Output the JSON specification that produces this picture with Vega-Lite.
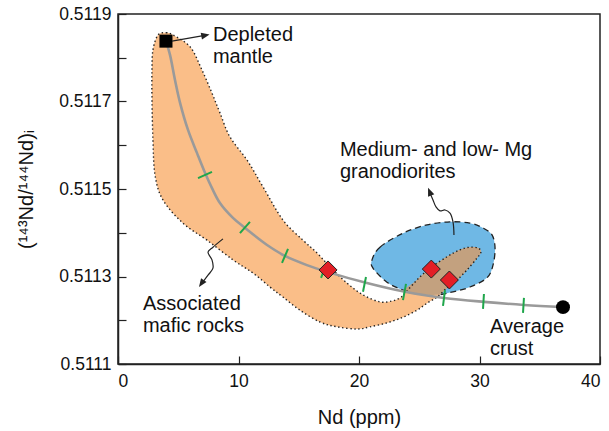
{
  "$schema": "https://vega.github.io/schema/vega-lite/v6.json",
  "width": 482,
  "height": 350,
  "autosize": "none",
  "padding": {"left": 118, "top": 14, "right": 9, "bottom": 67},
  "background": "white",
  "config": {
    "font": "Liberation Sans",
    "view": {"stroke": "#222", "strokeWidth": 1.5},
    "axis": {
      "grid": false,
      "domainColor": "#222",
      "domainWidth": 1.5,
      "tickColor": "#222",
      "tickWidth": 1.2,
      "tickSize": -8,
      "labelFontSize": 17.5,
      "labelColor": "#111",
      "titleFontSize": 20,
      "titleFontWeight": "normal",
      "titleColor": "#111"
    }
  },
  "datasets": {
    "orange": [
      {"x": 3.32, "y": 0.511852}, {"x": 3.98, "y": 0.511857}, {"x": 4.56, "y": 0.511852},
      {"x": 5.98, "y": 0.511825}, {"x": 6.97, "y": 0.511772}, {"x": 7.80, "y": 0.511719},
      {"x": 8.46, "y": 0.511674}, {"x": 9.29, "y": 0.511619}, {"x": 10.71, "y": 0.511566},
      {"x": 12.03, "y": 0.511505}, {"x": 13.69, "y": 0.511429}, {"x": 15.35, "y": 0.511383},
      {"x": 16.51, "y": 0.511354}, {"x": 17.59, "y": 0.511322}, {"x": 19.00, "y": 0.511285},
      {"x": 20.33, "y": 0.511258}, {"x": 21.74, "y": 0.511242}, {"x": 22.74, "y": 0.511244},
      {"x": 23.40, "y": 0.511251}, {"x": 23.82, "y": 0.511262}, {"x": 24.81, "y": 0.511292},
      {"x": 25.89, "y": 0.511319}, {"x": 27.30, "y": 0.511345}, {"x": 28.38, "y": 0.511361},
      {"x": 29.21, "y": 0.511367}, {"x": 29.88, "y": 0.511365}, {"x": 30.12, "y": 0.511356},
      {"x": 29.79, "y": 0.511342}, {"x": 28.96, "y": 0.511315}, {"x": 28.13, "y": 0.511292},
      {"x": 27.30, "y": 0.511274}, {"x": 26.47, "y": 0.511253}, {"x": 25.64, "y": 0.511239},
      {"x": 24.81, "y": 0.511223}, {"x": 23.65, "y": 0.511207}, {"x": 22.32, "y": 0.511194},
      {"x": 20.91, "y": 0.511185}, {"x": 19.83, "y": 0.511180}, {"x": 18.17, "y": 0.511185},
      {"x": 16.76, "y": 0.511196}, {"x": 15.10, "y": 0.511223}, {"x": 13.69, "y": 0.511253},
      {"x": 12.61, "y": 0.511276}, {"x": 11.20, "y": 0.511308}, {"x": 9.54, "y": 0.511338},
      {"x": 7.39, "y": 0.511383}, {"x": 5.39, "y": 0.511422}, {"x": 3.73, "y": 0.511475},
      {"x": 3.07, "y": 0.511532}, {"x": 2.90, "y": 0.511612}, {"x": 2.82, "y": 0.511703},
      {"x": 2.82, "y": 0.511772}, {"x": 2.90, "y": 0.511818}
    ],
    "blue": [
      {"x": 21.08, "y": 0.511338}, {"x": 21.74, "y": 0.511367}, {"x": 23.65, "y": 0.511399},
      {"x": 25.64, "y": 0.511418}, {"x": 27.55, "y": 0.511425}, {"x": 29.21, "y": 0.511422},
      {"x": 30.29, "y": 0.511411}, {"x": 31.04, "y": 0.511395}, {"x": 31.29, "y": 0.511365},
      {"x": 31.12, "y": 0.511326}, {"x": 30.62, "y": 0.511297}, {"x": 29.21, "y": 0.511276},
      {"x": 27.80, "y": 0.511265}, {"x": 26.47, "y": 0.511258}, {"x": 25.06, "y": 0.511260},
      {"x": 23.65, "y": 0.511269}, {"x": 22.32, "y": 0.511287}, {"x": 21.16, "y": 0.511319}
    ],
    "brown": [
      {"x": 23.73, "y": 0.511267}, {"x": 24.81, "y": 0.511292}, {"x": 25.89, "y": 0.511319},
      {"x": 27.30, "y": 0.511345}, {"x": 28.38, "y": 0.511361}, {"x": 29.21, "y": 0.511367},
      {"x": 29.88, "y": 0.511365}, {"x": 30.12, "y": 0.511356}, {"x": 29.79, "y": 0.511342},
      {"x": 28.96, "y": 0.511315}, {"x": 28.13, "y": 0.511292}, {"x": 27.30, "y": 0.511274},
      {"x": 26.72, "y": 0.511260}, {"x": 25.89, "y": 0.511258}, {"x": 24.90, "y": 0.511260}
    ],
    "curve": [
      {"x": 3.98, "y": 0.511838}, {"x": 4.32, "y": 0.511806}, {"x": 4.73, "y": 0.511749},
      {"x": 5.15, "y": 0.511697}, {"x": 5.81, "y": 0.511635}, {"x": 6.56, "y": 0.511582},
      {"x": 7.22, "y": 0.511537}, {"x": 7.80, "y": 0.511502}, {"x": 8.46, "y": 0.511468},
      {"x": 9.54, "y": 0.511434}, {"x": 10.54, "y": 0.511411}, {"x": 12.37, "y": 0.511372},
      {"x": 13.86, "y": 0.511347}, {"x": 15.68, "y": 0.511326}, {"x": 17.43, "y": 0.511310},
      {"x": 20.66, "y": 0.511285}, {"x": 23.82, "y": 0.511265}, {"x": 27.05, "y": 0.511251},
      {"x": 30.37, "y": 0.511242}, {"x": 33.69, "y": 0.511235}, {"x": 36.93, "y": 0.511230}
    ],
    "ticks": [
      {"x": 6.64, "y": 0.511525, "x2": 7.80, "y2": 0.511539},
      {"x": 10.12, "y": 0.511399, "x2": 10.95, "y2": 0.511425},
      {"x": 13.61, "y": 0.511331, "x2": 14.11, "y2": 0.511363},
      {"x": 16.85, "y": 0.511297, "x2": 17.34, "y2": 0.511333},
      {"x": 20.33, "y": 0.511265, "x2": 20.58, "y2": 0.511299},
      {"x": 23.65, "y": 0.511246, "x2": 23.90, "y2": 0.511283},
      {"x": 26.97, "y": 0.511233, "x2": 27.14, "y2": 0.511269},
      {"x": 30.29, "y": 0.511226, "x2": 30.37, "y2": 0.511260},
      {"x": 33.61, "y": 0.511217, "x2": 33.69, "y2": 0.511251}
    ],
    "samples": [
      {"x": 17.43, "y": 0.511315},
      {"x": 26.0, "y": 0.511317},
      {"x": 27.5, "y": 0.511292}
    ],
    "mantle": [{"x": 3.98, "y": 0.511838}],
    "crust": [{"x": 36.93, "y": 0.511230}],
    "arrowDM": [{"x": 4.48, "y": 0.511838}, {"x": 7.2, "y": 0.511851}],
    "headDM": [{"x": 7.6, "y": 0.511853}],
    "arrowGr": [
      {"x": 27.88, "y": 0.511395}, {"x": 27.80, "y": 0.511425}, {"x": 27.55, "y": 0.511445},
      {"x": 27.14, "y": 0.511452}, {"x": 26.72, "y": 0.511450}, {"x": 26.39, "y": 0.511459},
      {"x": 26.14, "y": 0.511475}, {"x": 25.89, "y": 0.511491}, {"x": 25.80, "y": 0.511497}
    ],
    "headGr": [{"x": 25.73, "y": 0.511503}],
    "arrowAs": [
      {"x": 8.71, "y": 0.511386}, {"x": 7.88, "y": 0.511367}, {"x": 7.47, "y": 0.511356},
      {"x": 7.80, "y": 0.511338}, {"x": 7.88, "y": 0.511319}, {"x": 7.47, "y": 0.511303},
      {"x": 6.97, "y": 0.511285}, {"x": 6.85, "y": 0.511281}
    ],
    "headAs": [{"x": 6.72, "y": 0.511276}],
    "labels": [
      {"x": 7.88, "y": 0.511838, "t": "Depleted\nmantle"},
      {"x": 18.42, "y": 0.511575, "t": "Medium- and low- Mg\ngranodiorites"},
      {"x": 2.07, "y": 0.511223, "t": "Associated\nmafic rocks"},
      {"x": 30.87, "y": 0.511171, "t": "Average\ncrust"}
    ]
  },
  "encoding": {
    "x": {
      "field": "x", "type": "quantitative",
      "scale": {"domain": [0, 40], "nice": false, "zero": false},
      "axis": {"title": "Nd (ppm)", "values": [0, 10, 20, 30, 40], "labelPadding": 16, "titlePadding": 18}
    },
    "y": {
      "field": "y", "type": "quantitative",
      "scale": {"domain": [0.5111, 0.5119], "nice": false, "zero": false},
      "axis": {
        "title": "(¹⁴³Nd/¹⁴⁴Nd)ᵢ",
        "values": [0.5111, 0.5112, 0.5113, 0.5114, 0.5115, 0.5116, 0.5117, 0.5118, 0.5119],
        "labelExpr": "round(datum.value*10000) % 2 == 1 ? format(datum.value, '.4f') : ''",
        "labelPadding": 15,
        "titlePadding": 22
      }
    }
  },
  "layer": [
    {
      "data": {"name": "blue"},
      "mark": {"type": "line", "interpolate": "cardinal-closed", "fill": "#6FB8E5", "stroke": "#222", "strokeWidth": 1.3, "strokeDash": [6, 4]},
      "encoding": {"order": {"value": null}}
    },
    {
      "data": {"name": "orange"},
      "mark": {"type": "line", "interpolate": "cardinal-closed", "fill": "#FABE88", "strokeWidth": 0},
      "encoding": {"order": {"value": null}}
    },
    {
      "data": {"name": "brown"},
      "mark": {"type": "line", "interpolate": "cardinal-closed", "fill": "#C3A17F", "strokeWidth": 0},
      "encoding": {"order": {"value": null}}
    },
    {
      "data": {"name": "orange"},
      "mark": {"type": "line", "interpolate": "cardinal-closed", "stroke": "#222", "strokeWidth": 1.4, "strokeDash": [1.4, 2.6]},
      "encoding": {"order": {"value": null}}
    },
    {
      "data": {"name": "curve"},
      "mark": {"type": "line", "interpolate": "catmull-rom", "stroke": "#9A9A9A", "strokeWidth": 2.6},
      "encoding": {"order": {"value": null}}
    },
    {
      "data": {"name": "ticks"},
      "mark": {"type": "rule", "stroke": "#1FA64B", "strokeWidth": 2},
      "encoding": {"x2": {"field": "x2"}, "y2": {"field": "y2"}}
    },
    {
      "data": {"name": "samples"},
      "mark": {"type": "point", "shape": "diamond", "size": 324, "filled": true, "fill": "#E31E26", "stroke": "#222", "strokeWidth": 1, "opacity": 1}
    },
    {
      "data": {"name": "mantle"},
      "mark": {"type": "point", "shape": "square", "size": 170, "filled": true, "fill": "#000", "opacity": 1}
    },
    {
      "data": {"name": "crust"},
      "mark": {"type": "point", "shape": "circle", "size": 195, "filled": true, "fill": "#000", "opacity": 1}
    },
    {
      "data": {"name": "arrowDM"},
      "mark": {"type": "line", "stroke": "#222", "strokeWidth": 1.2},
      "encoding": {"order": {"value": null}}
    },
    {
      "data": {"name": "arrowGr"},
      "mark": {"type": "line", "interpolate": "catmull-rom", "stroke": "#222", "strokeWidth": 1.2},
      "encoding": {"order": {"value": null}}
    },
    {
      "data": {"name": "arrowAs"},
      "mark": {"type": "line", "interpolate": "catmull-rom", "stroke": "#222", "strokeWidth": 1.2},
      "encoding": {"order": {"value": null}}
    },
    {
      "data": {"name": "headDM"},
      "mark": {"type": "point", "shape": "M0,0L-2,-0.8L-2,0.8Z", "size": 70, "angle": 349, "filled": true, "fill": "#222", "strokeWidth": 0, "opacity": 1}
    },
    {
      "data": {"name": "headGr"},
      "mark": {"type": "point", "shape": "M0,0L-2,-0.8L-2,0.8Z", "size": 70, "angle": 248, "filled": true, "fill": "#222", "strokeWidth": 0, "opacity": 1}
    },
    {
      "data": {"name": "headAs"},
      "mark": {"type": "point", "shape": "M0,0L-2,-0.8L-2,0.8Z", "size": 70, "angle": 125, "filled": true, "fill": "#222", "strokeWidth": 0, "opacity": 1}
    },
    {
      "data": {"name": "labels"},
      "mark": {"type": "text", "align": "left", "baseline": "alphabetic", "fontSize": 20, "lineHeight": 22, "lineBreak": "\n", "fill": "#111", "font": "Liberation Sans"},
      "encoding": {"text": {"field": "t"}}
    }
  ]
}
